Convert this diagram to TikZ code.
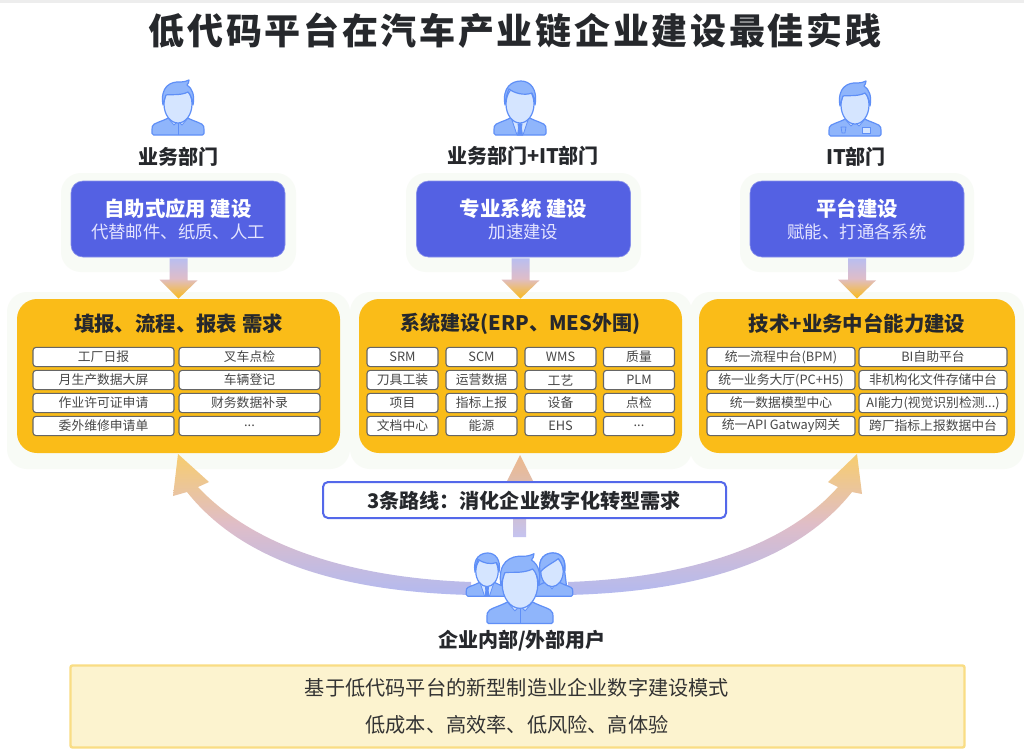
\documentclass[tikz,border=0pt]{standalone}
\usepackage{fontspec}
\setmainfont{Noto Sans CJK SC}
\newfontfamily\titlefont[LetterSpace=7.5]{Noto Sans CJK SC}
\usetikzlibrary{calc}
\definecolor{bluebox}{HTML}{5461E3}
\definecolor{bluepale}{HTML}{B9BEF0}
\definecolor{panelyellow}{HTML}{FABC18}
\definecolor{haloshade}{HTML}{F8FBF6}
\definecolor{iconline}{HTML}{5F8FF7}
\definecolor{iconbody}{HTML}{8FB5FB}
\definecolor{iconface}{HTML}{D5E5FF}
\definecolor{inktext}{HTML}{26282C}
\definecolor{routeline}{HTML}{5468EA}
\definecolor{archead}{HTML}{F7CD6E}
\definecolor{arcmid}{HTML}{DFBDC8}
\definecolor{arcend}{HTML}{B3BAF0}
\definecolor{stemtop}{HTML}{EDB98A}
\definecolor{stemend}{HTML}{C5C3F0}
\definecolor{notefill}{HTML}{FCF3CF}
\definecolor{noteline}{HTML}{F9DD84}
\newcommand{\threedots}{...}
\newcommand{\moredots}{\raisebox{-1pt}{\threedots}}
\tikzset{
  bluenode/.style={fill=bluebox, draw=bluebox!70!white, line width=0.3pt, rounded corners=6pt, minimum width=107pt, minimum height=38pt, inner sep=0pt},
  panelnode/.style={fill=panelyellow, rounded corners=10pt, minimum height=77pt, inner sep=0pt},
  cellnode/.style={fill=white, draw=black!60, line width=0.55pt, rounded corners=1.5pt, minimum height=9.6pt, inner sep=0pt, text=black!72, font=\fontsize{6.4}{7.5}\selectfont},
  deptlabel/.style={font=\fontsize{10}{12}\selectfont\bfseries, text=inktext, inner sep=0pt},
  paneltitle/.style={font=\fontsize{10.2}{12}\selectfont\bfseries, text=inktext, inner sep=0pt},
  halo/.style={fill=haloshade, rounded corners=10pt},
  downshade/.style={top color=bluepale, bottom color=panelyellow, middle color=arcmid},
  arcshade/.style={top color=archead, bottom color=arcend, middle color=arcmid},
  iconpen/.style={draw=iconline, line width=0.6pt, line join=round},
  iconthin/.style={draw=iconline, line width=0.4pt, line join=round},
  % parts that all the people share
  personbody/.pic={
    \draw[iconpen, fill=iconbody, rounded corners=0.8pt] (-26,54) -- (-26,47) .. controls (-25,42) and (-17,41) .. (-8,36) -- (8,36) .. controls (17,41) and (25,42) .. (26,47) -- (26,54) -- cycle;
  },
  personface/.pic={
    \draw[iconpen, fill=iconface] (0,23) ellipse [x radius=14, y radius=19];
  },
  spikyhair/.pic={
    \draw[iconpen, fill=iconbody] (-15,24) .. controls (-18,6) and (-8,0) .. (3,1) .. controls (6,1) and (9,0) .. (11,-1) .. controls (11,1) and (10,3) .. (9,4) .. controls (14,7) and (17,14) .. (15,24) .. controls (14,18) and (13,14) .. (10,11) .. controls (2,15) and (-8,13) .. (-12,14) .. controls (-13,17) and (-14,20) .. (-15,24) -- cycle;
  },
  usera/.pic={
    \pic {personbody};
    \draw[iconthin, fill=iconface] (-10,37) -- (-4,44) -- (0,40) -- (4,44) -- (10,37) -- (0,32) -- cycle;
    \draw[iconthin] (0,42) -- (0,54);
    \pic {personface};
    \pic {spikyhair};
  },
  userb/.pic={
    \pic {personbody};
    \draw[iconthin, fill=iconface] (-9,36) -- (-3,54) -- (3,54) -- (9,36) -- (0,43) -- cycle;
    \draw[iconthin, fill=iconline] (-2,43) -- (2,43) -- (1.5,47) -- (2.5,54) -- (-2.5,54) -- (-1.5,47) -- cycle;
    \pic {personface};
    \draw[iconpen, fill=iconbody] (-15,24) .. controls (-18,6) and (-8,0) .. (1,0) .. controls (10,0) and (18,8) .. (15,24) .. controls (14,18) and (14,15) .. (12,12) .. controls (4,15) and (-6,12) .. (-11,8) .. controls (-13,12) and (-14,18) .. (-15,24) -- cycle;
  },
  userc/.pic={
    \pic {personbody};
    \draw[iconthin, fill=iconface] (-10,37) -- (-4,44) -- (0,40) -- (4,44) -- (10,37) -- (0,32) -- cycle;
    \draw[iconthin, fill=iconface] (7,45) rectangle (15,51);
    \draw[iconthin] (-14,45) -- (-9,45) -- (-10,51) -- (-13,51) -- cycle;
    \pic {personface};
    \pic {spikyhair};
  },
  userw/.pic={
    \draw[iconpen, fill=iconbody] (-15,24) .. controls (-18,6) and (-8,0) .. (1,0) .. controls (12,0) and (18,8) .. (16,24) -- (18,40) -- (-17,40) -- cycle;
    \pic {personbody};
    \draw[iconthin, fill=iconface] (-6,36) -- (0,45) -- (6,36) -- cycle;
    \pic {personface};
    \draw[iconpen, fill=iconbody] (-15,24) .. controls (-18,6) and (-8,0) .. (1,0) .. controls (12,0) and (18,8) .. (15,24) .. controls (14,18) and (12,12) .. (8,7) .. controls (2,12) and (-8,16) .. (-15,24) -- cycle;
  }
}
\begin{document}
\begin{tikzpicture}[x=0.5pt, y=-0.5pt]
\useasboundingbox (0,0) rectangle (1024,755);
\fill[white] (0,0) rectangle (1024,755);
\fill[black!7] (0,0) rectangle (1024,3);

% Title
\node[inner sep=0pt, text=inktext] (title) at (515,31) {\fontsize{18}{21}\titlefont\bfseries 低代码平台在汽车产业链企业建设最佳实践};

% Halos
\foreach \xa/\xb in {61/296, 406/641, 740/974} {
    \fill[halo] (\xa,173) rectangle (\xb,272);
}
\foreach \xa/\xb in {7/350, 350/692, 690/1024} {
    \fill[halo] (\xa,292) rectangle (\xb,469);
}

% People on top
\pic at (178,81) {usera};
\pic at (520,81) {userb};
\pic at (855,82) {userc};
\node[deptlabel] (dept1) at (178,157) {业务部门};
\node[deptlabel] (dept2) at (523,156) {业务部门+IT部门};
\node[deptlabel] (dept3) at (856,157) {IT部门};

% Blue boxes
\foreach \i/\x/\head/\sub in {1/178/自助式应用 建设/代替邮件、纸质、人工, 2/523.5/专业系统 建设/加速建设, 3/857/平台建设/赋能、打通各系统} {
    \node[bluenode] (blue\i) at (\x,219) {};
    \node[font=\fontsize{10.2}{12}\selectfont\bfseries, text=white, inner sep=0pt] (bluehead\i) at (\x,209) {\head};
    \node[font=\fontsize{8.7}{10}\selectfont, text=white!90!blue, inner sep=0pt] (bluesub\i) at (\x,232) {\sub};
}

% Yellow panels
\node[panelnode, minimum width=161.5pt] (panel1) at (178.5,376) {};
\node[panelnode, minimum width=161.5pt] (panel2) at (520.5,376) {};
\node[panelnode, minimum width=158pt] (panel3) at (857,376) {};
\node[paneltitle] (ptitle1) at (178.5,324) {填报、流程、报表 需求};
\node[paneltitle, font=\fontsize{10}{12}\selectfont\bfseries] (ptitle2) at (520.5,324) {系统建设(ERP、MES外围)};
\node[paneltitle] (ptitle3) at (857,324) {技术+业务中台能力建设};

% Arrows from the blue boxes
\foreach \i in {1,2,3} {
    \shade[downshade] ($(panel\i.north |- blue\i.south)+(-9,1)$) -- ++(18,0) -- ++(0,22) -- ++(10,0) -- (panel\i.north) -- ($(panel\i.north)+(-19,-19)$) -- ($(panel\i.north)+(-9,-19)$) -- cycle;
}

% Cells of panel 1
\foreach \y/\la/\lb [count=\r] in {357/工厂日报/叉车点检, 380/月生产数据大屏/车辆登记, 403/作业许可证申请/财务数据补录, 426/委外维修申请单/\moredots} {
    \node[cellnode, minimum width=70.5pt] (pa\r) at (103.5,\y) {\la};
    \node[cellnode, minimum width=70.5pt] (pb\r) at (249.5,\y) {\lb};
}

% Cells of panel 2
\foreach \y/\la/\lb/\lc/\ld [count=\r] in {357/SRM/SCM/WMS/质量, 380/刀具工装/运营数据/工艺/PLM, 403/项目/指标上报/设备/点检, 426/文档中心/能源/EHS/\moredots} {
    \node[cellnode, minimum width=35.5pt] (qa\r) at (402.5,\y) {\la};
    \node[cellnode, minimum width=35.5pt] (qb\r) at (481.5,\y) {\lb};
    \node[cellnode, minimum width=35.5pt] (qc\r) at (560.5,\y) {\lc};
    \node[cellnode, minimum width=35.5pt] (qd\r) at (639,\y) {\ld};
}

% Cells of panel 3
\foreach \y/\la/\lb [count=\r] in {357/统一流程中台(BPM)/BI自助平台, 380/统一业务大厅(PC+H5)/非机构化文件存储中台, 403/统一数据模型中心/AI能力(视觉识别检测\threedots), 426/统一API Gatway网关/跨厂指标上报数据中台} {
    \node[cellnode, minimum width=74pt] (ra\r) at (781,\y) {\la};
    \node[cellnode, minimum width=74pt] (rb\r) at (933,\y) {\lb};
}

% Big arrows from the users
\shade[arcshade] (178,454) -- (209,482) -- (198,487) .. controls (255,548) and (355,578) .. (471,582) -- (471,595) .. controls (350,592) and (245,565) .. (187,492) -- (173,496) -- cycle;
\shade[arcshade] (857,454) -- (862,494) -- (852,492) .. controls (794,565) and (689,592) .. (568,595) -- (568,582) .. controls (684,578) and (784,548) .. (838,487) -- (828,482) -- cycle;
\shade[top color=stemtop, bottom color=stemend] (520,455) -- (535,485) -- (526,485) -- (526,537) -- (513,537) -- (513,485) -- (505,485) -- cycle;

% Route box
\node[fill=white, draw=routeline, line width=1pt, rounded corners=2.5pt, minimum width=201.5pt, minimum height=18pt, inner sep=0pt] (route) at (524.5,500) {};
\node[font=\fontsize{10.05}{12}\selectfont\bfseries, text=inktext, inner sep=0pt] (routetext) at (524,501) {3条路线：消化企业数字化转型需求};

% Users
\begin{scope}[shift={(487,553)}, scale=0.8, transform shape]
    \pic {userb};
\end{scope}
\begin{scope}[shift={(552,553)}, scale=0.8, transform shape]
    \pic {userw};
\end{scope}
\begin{scope}[shift={(520,555)}, scale=1.27, transform shape]
    \pic {usera};
\end{scope}
\node[deptlabel] (users) at (522,641) {企业内部/外部用户};

% Bottom box
\node[fill=notefill, draw=noteline, line width=1.2pt, rounded corners=1pt, minimum width=447pt, minimum height=41pt, inner sep=0pt] (bottom) at (517.5,706.5) {};
\node[font=\fontsize{10.1}{12}\selectfont, text=black!80, inner sep=0pt] (bottoma) at (517,688) {基于低代码平台的新型制造业企业数字建设模式};
\node[font=\fontsize{10.1}{12}\selectfont, text=black!80, inner sep=0pt] (bottomb) at (517,725) {低成本、高效率、低风险、高体验};

\end{tikzpicture}
\end{document}
